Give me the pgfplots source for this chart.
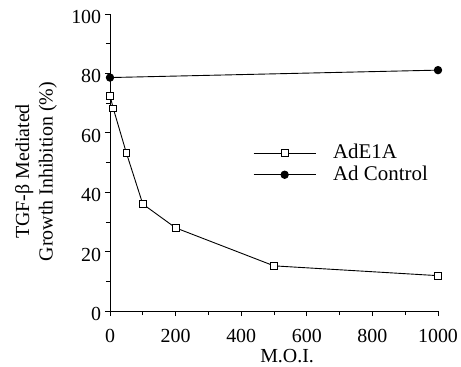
\documentclass[border=0pt]{standalone}
\usepackage{fontspec}
\setmainfont{Liberation Serif}
\usepackage{pgfplots}
\pgfplotsset{compat=1.18}
\begin{document}
\fontsize{20}{22}\selectfont
\begin{tikzpicture}
\useasboundingbox (-110bp,-56bp) rectangle (351bp,311bp);
\begin{axis}[
  scale only axis,
  width=328bp, height=297bp,
  xmin=0, xmax=1000, ymin=0, ymax=100,
  axis x line*=bottom, axis y line*=left,
  axis line style={-, line width=0.9bp},
  xtick={0,200,...,1000}, ytick={0,20,...,100},
  minor xtick={100,300,...,900}, minor ytick={10,30,...,90},
  tick align=outside,
  major tick length=5bp, minor tick length=4bp,
  every tick/.style={black, line width=0.8bp},
  /pgf/number format/assume math mode=true,
  /pgf/number format/1000 sep={},
  tick label style={font=\fontsize{20}{22}\selectfont},
  xticklabel style={yshift=-6bp},
  yticklabel style={xshift=3bp, yshift=-3bp},
  label style={font=\fontsize{20}{23.5}\selectfont},
  xlabel={M.O.I.},
  xlabel style={at={(axis description cs:0.54,0)}, anchor=center, yshift=-45bp},
  ylabel={TGF-β Mediated\\Growth Inhibition (\%)},
  ylabel style={align=center, at={(axis description cs:-0.2256,0.47)}, anchor=center},
  legend image code/.code={\draw[mark repeat=2,mark phase=2,#1] plot coordinates {(0bp,0bp)(31bp,0bp)(62bp,0bp)};},
  legend style={draw=none, fill=none, font=\fontsize{21}{22}\selectfont,
    at={(axis description cs:0.436,0.495)}, anchor=west,
    inner sep=0pt, nodes={inner sep=0pt}, column sep=17bp, row sep=4bp},
  legend cell align=left,
]
\addplot[black, line width=0.9bp, mark=square*, mark options={fill=white, line width=0.9bp}, mark size=3.4bp]
  coordinates {(0,72.5) (10,68.2) (50,53.2) (100,36) (200,28) (500,15.2) (1000,11.9)};
\addlegendentry{AdE1A}
\addplot[black, line width=0.9bp, mark=*, mark options={fill=black}, mark size=3.7bp]
  coordinates {(0,78.6) (1000,81.1)};
\addlegendentry{Ad Control}
\end{axis}
\end{tikzpicture}
\end{document}
